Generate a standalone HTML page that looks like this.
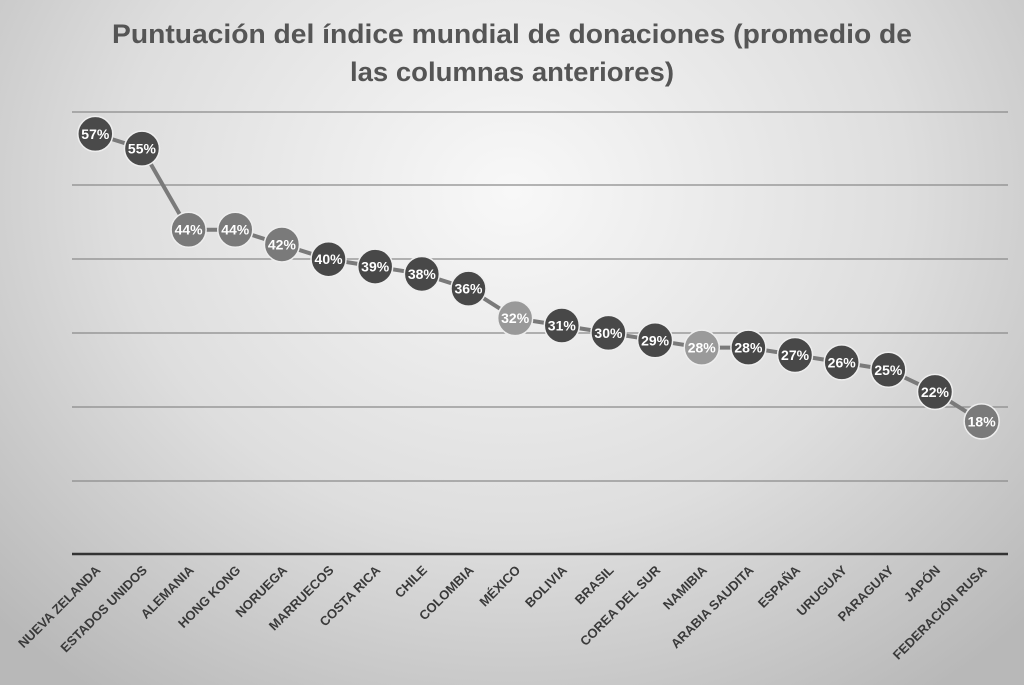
<!DOCTYPE html><html><head><meta charset="utf-8"><style>
body{margin:0;width:1024px;height:685px;overflow:hidden;background:radial-gradient(ellipse 70% 90% at 50% 28%,#f8f8f8 0%,#dedede 55%,#b8b8b8 100%);font-family:"Liberation Sans",sans-serif}
</style></head><body>
<svg width="1024" height="685" xmlns="http://www.w3.org/2000/svg" style="position:absolute;left:0;top:0">
<text x="512" y="43" text-anchor="middle" font-size="27" font-weight="bold" fill="#555" textLength="800" lengthAdjust="spacingAndGlyphs">Puntuación del índice mundial de donaciones (promedio de</text>
<text x="512" y="81" text-anchor="middle" font-size="27" font-weight="bold" fill="#555" textLength="324" lengthAdjust="spacingAndGlyphs">las columnas anteriores)</text>
<g stroke="#8a8a8a" stroke-width="1.3">
<line x1="72" x2="1008" y1="112" y2="112"/><line x1="72" x2="1008" y1="185" y2="185"/><line x1="72" x2="1008" y1="259" y2="259"/><line x1="72" x2="1008" y1="333" y2="333"/><line x1="72" x2="1008" y1="407" y2="407"/><line x1="72" x2="1008" y1="481" y2="481"/></g>
<line x1="72" x2="1008" y1="554" y2="554" stroke="#333" stroke-width="2.5"/>
<g id="c"></g>
</svg>
<script>
var v=[57,55,44,44,42,40,39,38,36,32,31,30,29,28,28,27,26,25,22,18];
var n=["NUEVA ZELANDA","ESTADOS UNIDOS","ALEMANIA","HONG KONG","NORUEGA","MARRUECOS","COSTA RICA","CHILE","COLOMBIA","MÉXICO","BOLIVIA","BRASIL","COREA DEL SUR","NAMIBIA","ARABIA SAUDITA","ESPAÑA","URUGUAY","PARAGUAY","JAPÓN","FEDERACIÓN RUSA"];
var col=["#4a4a4a","#4a4a4a","#7a7a7a","#7a7a7a","#7a7a7a","#484848","#484848","#484848","#484848","#999","#484848","#484848","#484848","#9a9a9a","#484848","#484848","#484848","#484848","#484848","#7a7a7a"];
var s="",p=[];
for(var i=0;i<20;i++){var x=95.3+i*46.65,y=554-v[i]*7.37;p.push(x.toFixed(1)+","+y.toFixed(1));}
s+='<polyline points="'+p.join(" ")+'" fill="none" stroke="#7a7a7a" stroke-width="4"/>';
for(var i=0;i<20;i++){var x=95.3+i*46.65,y=554-v[i]*7.37;
s+='<circle cx="'+x+'" cy="'+y+'" r="17.5" fill="'+col[i]+'" stroke="#eee" stroke-width="1.5"/>';
s+='<text x="'+x+'" y="'+(y+5)+'" text-anchor="middle" font-size="13.5" font-weight="bold" fill="#fff" textLength="28" lengthAdjust="spacingAndGlyphs">'+v[i]+'%</text>';
s+='<text transform="translate('+(x+6)+',571) rotate(-45)" text-anchor="end" font-size="13" font-weight="bold" fill="#3a3a3a">'+n[i]+'</text>';}
document.getElementById("c").innerHTML=s;
</script>
</body></html>
